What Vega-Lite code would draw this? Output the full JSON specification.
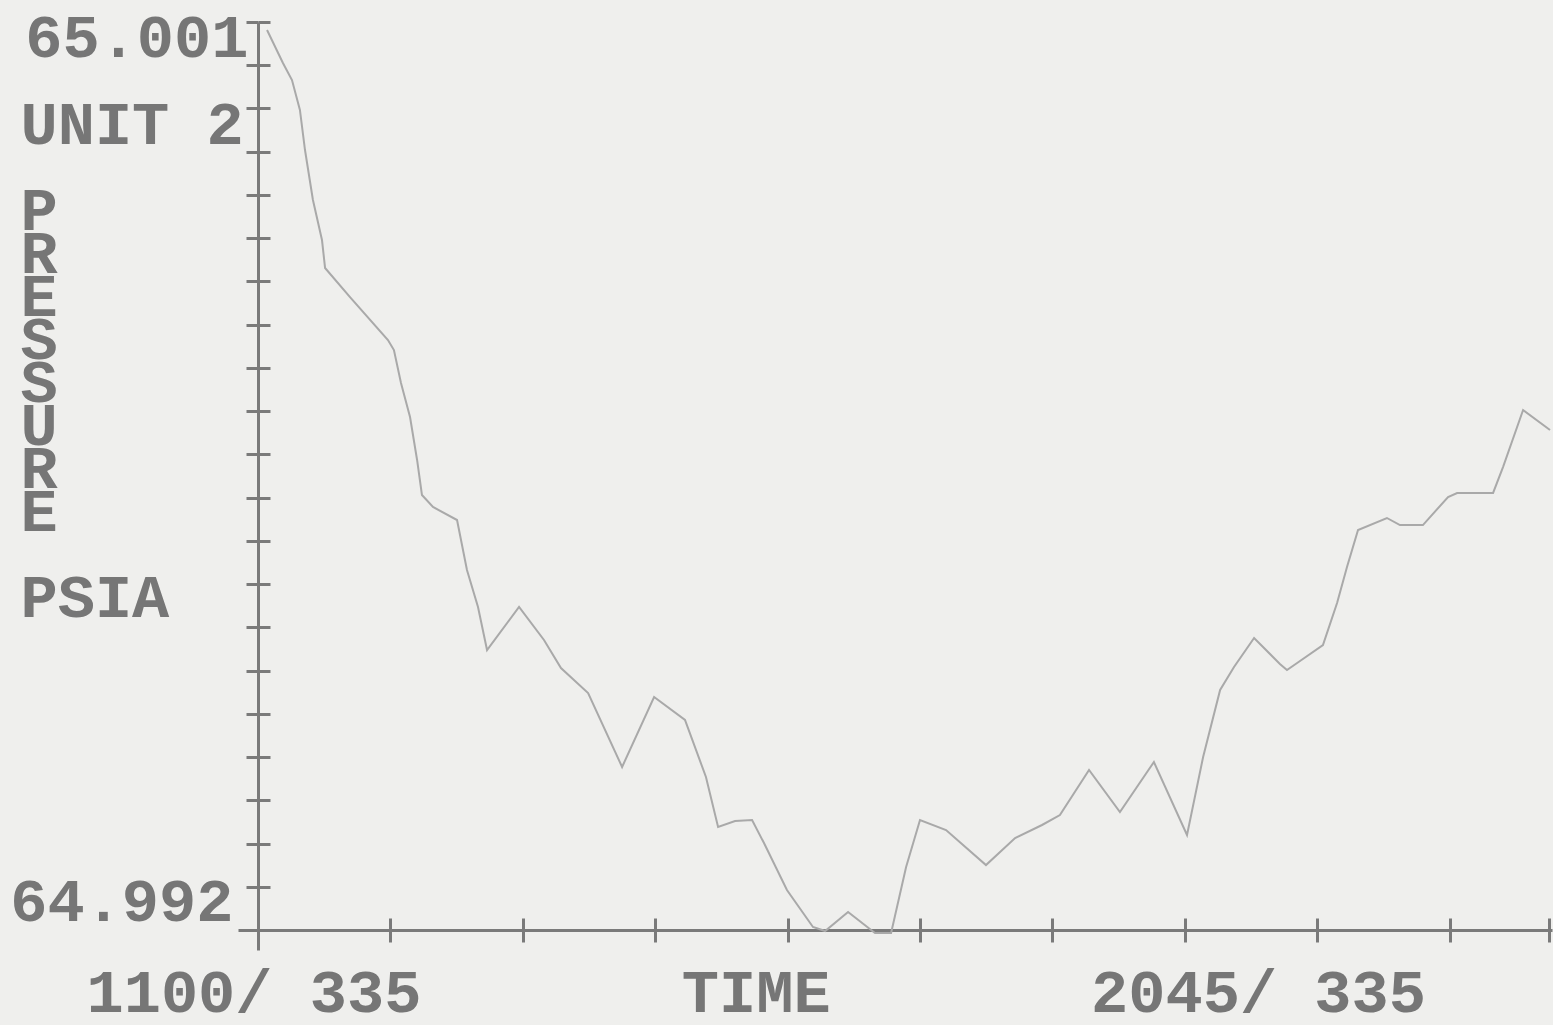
{
  "$schema": "https://vega.github.io/schema/vega-lite/v6.json",
  "autosize": "none",
  "width": 1314,
  "height": 928,
  "padding": {"left": 238, "top": 22, "right": 1, "bottom": 75},
  "background": "#efefed",
  "config": {
    "view": {"stroke": null},
    "axis": {"grid": false}
  },
  "data": {
    "values": [
      {"t": 4.1, "p": 65.000921},
      {"t": 11.3, "p": 65.000594},
      {"t": 15.4, "p": 65.000425},
      {"t": 19.0, "p": 65.000128},
      {"t": 21.3, "p": 64.999731},
      {"t": 24.9, "p": 64.999236},
      {"t": 29.0, "p": 64.998839},
      {"t": 30.4, "p": 64.998562},
      {"t": 41.7, "p": 64.998274},
      {"t": 58.9, "p": 64.997848},
      {"t": 61.6, "p": 64.997749},
      {"t": 64.8, "p": 64.997422},
      {"t": 68.9, "p": 64.997085},
      {"t": 72.1, "p": 64.996659},
      {"t": 74.3, "p": 64.996312},
      {"t": 79.3, "p": 64.996193},
      {"t": 90.2, "p": 64.996064},
      {"t": 92.0, "p": 64.995866},
      {"t": 94.7, "p": 64.995568},
      {"t": 99.7, "p": 64.995202},
      {"t": 103.8, "p": 64.994775},
      {"t": 118.3, "p": 64.995202},
      {"t": 129.6, "p": 64.994875},
      {"t": 137.3, "p": 64.994597},
      {"t": 149.6, "p": 64.994349},
      {"t": 165.0, "p": 64.993616},
      {"t": 179.5, "p": 64.994310},
      {"t": 193.5, "p": 64.994082},
      {"t": 203.0, "p": 64.993517},
      {"t": 208.5, "p": 64.993021},
      {"t": 216.2, "p": 64.993080},
      {"t": 223.9, "p": 64.993090},
      {"t": 229.3, "p": 64.992862},
      {"t": 239.7, "p": 64.992397},
      {"t": 251.5, "p": 64.992030},
      {"t": 257.0, "p": 64.991990},
      {"t": 267.4, "p": 64.992178},
      {"t": 279.6, "p": 64.991970},
      {"t": 286.9, "p": 64.991970},
      {"t": 293.7, "p": 64.992624},
      {"t": 300.0, "p": 64.993090},
      {"t": 311.8, "p": 64.992991},
      {"t": 329.9, "p": 64.992644},
      {"t": 343.1, "p": 64.992912},
      {"t": 355.3, "p": 64.993041},
      {"t": 363.4, "p": 64.993140},
      {"t": 376.6, "p": 64.993586},
      {"t": 390.6, "p": 64.993170},
      {"t": 406.0, "p": 64.993665},
      {"t": 421.0, "p": 64.992942},
      {"t": 428.3, "p": 64.993715},
      {"t": 436.0, "p": 64.994379},
      {"t": 442.3, "p": 64.994607},
      {"t": 451.4, "p": 64.994894},
      {"t": 463.1, "p": 64.994637},
      {"t": 466.3, "p": 64.994577},
      {"t": 470.9, "p": 64.994647},
      {"t": 482.6, "p": 64.994825},
      {"t": 489.0, "p": 64.995241},
      {"t": 493.5, "p": 64.995598},
      {"t": 498.5, "p": 64.995965},
      {"t": 511.6, "p": 64.996084},
      {"t": 517.5, "p": 64.996014},
      {"t": 527.9, "p": 64.996014},
      {"t": 539.3, "p": 64.996292},
      {"t": 543.4, "p": 64.996332},
      {"t": 559.7, "p": 64.996332},
      {"t": 564.2, "p": 64.996589},
      {"t": 573.3, "p": 64.997154},
      {"t": 585.5, "p": 64.996956}
    ]
  },
  "layer": [
    {
      "mark": {"type": "line", "color": "#a9a9a9", "strokeWidth": 2, "clip": false},
      "encoding": {
        "x": {
          "field": "t",
          "type": "quantitative",
          "scale": {"domain": [-9.06, 586.4], "nice": false, "zero": false},
          "axis": {
            "orient": "bottom",
            "values": [0, 60, 120, 180, 240, 300, 360, 420, 480, 540, 585],
            "labels": false,
            "offset": -20,
            "tickSize": 12,
            "tickWidth": 3,
            "tickColor": "#7a7a7a",
            "domainColor": "#7a7a7a",
            "domainWidth": 3,
            "title": "1100/\u00a0335\u00a0\u00a0\u00a0\u00a0\u00a0\u00a0\u00a0TIME\u00a0\u00a0\u00a0\u00a0\u00a0\u00a0\u00a02045/\u00a0335",
            "titleFont": "Liberation Mono",
            "titleFontSize": 62,
            "titleFontWeight": "bold",
            "titleColor": "#767676",
            "titleAnchor": null,
            "titleAlign": "left",
            "titleBaseline": "alphabetic",
            "titleX": -152,
            "titleY": 81,
            "titleLimit": 3000
          }
        },
        "y": {
          "field": "p",
          "type": "quantitative",
          "scale": {"domain": [64.991802, 65.001], "nice": false, "zero": false},
          "axis": {
            "orient": "left",
            "values": [64.992, 64.99242857, 64.99285714, 64.99328571, 64.99371429, 64.99414286, 64.99457143, 64.995, 64.99542857, 64.99585714, 64.99628571, 64.99671429, 64.99714286, 64.99757143, 64.998, 64.99842857, 64.99885714, 64.99928571, 64.99971429, 65.00014286, 65.00057143, 65.001],
            "labelExpr": "datum.value > 65.0009 ? '65.001' : (datum.value < 64.99201 ? '64.992' : '')",
            "labelFont": "Liberation Mono",
            "labelFontSize": 62,
            "labelFontWeight": "bold",
            "labelColor": "#767676",
            "labelAlign": "right",
            "labelBaseline": "alphabetic",
            "labelLimit": 1000,
            "labelOffset": {"condition": {"test": "datum.value > 65", "value": 34}, "value": -10},
            "labelPadding": {"condition": {"test": "datum.value > 65", "value": -2}, "value": 13},
            "labelOverlap": false,
            "labelBound": false,
            "labelFlush": false,
            "offset": -20,
            "tickSize": 12,
            "tickWidth": 3,
            "tickColor": "#7a7a7a",
            "domainColor": "#7a7a7a",
            "domainWidth": 3,
            "title": ["UNIT\u00a02", "\u2800", "P", "R", "E", "S", "S", "U", "R", "E", "\u2800", "PSIA"],
            "titleFont": "Liberation Mono",
            "titleFontSize": 62,
            "titleFontWeight": "bold",
            "titleColor": "#767676",
            "titleAngle": 0,
            "titleAnchor": null,
            "titleAlign": "left",
            "titleBaseline": "alphabetic",
            "titleLineHeight": 43,
            "titleX": -238,
            "titleY": 121,
            "titleLimit": 3000
          }
        }
      }
    },
    {
      "mark": {"type": "line", "opacity": 0},
      "encoding": {
        "x": {
          "field": "t",
          "type": "quantitative",
          "scale": {"domain": [-9.06, 586.4], "nice": false, "zero": false},
          "axis": {
            "orient": "bottom",
            "values": [0, 60, 120, 180, 240, 300, 360, 420, 480, 540, 585],
            "labels": false,
            "domain": false,
            "offset": -32,
            "tickSize": 12,
            "tickWidth": 3,
            "tickColor": "#7a7a7a",
            "title": null
          }
        },
        "y": {
          "field": "p",
          "type": "quantitative",
          "scale": {"domain": [64.991802, 65.001], "nice": false, "zero": false},
          "axis": {
            "orient": "left",
            "values": [64.992, 64.99242857, 64.99285714, 64.99328571, 64.99371429, 64.99414286, 64.99457143, 64.995, 64.99542857, 64.99585714, 64.99628571, 64.99671429, 64.99714286, 64.99757143, 64.998, 64.99842857, 64.99885714, 64.99928571, 64.99971429, 65.00014286, 65.00057143, 65.001],
            "labels": false,
            "domain": false,
            "offset": -32,
            "tickSize": 12,
            "tickWidth": 3,
            "tickColor": "#7a7a7a",
            "title": null
          }
        }
      }
    }
  ],
  "resolve": {"axis": {"x": "independent", "y": "independent"}}
}
